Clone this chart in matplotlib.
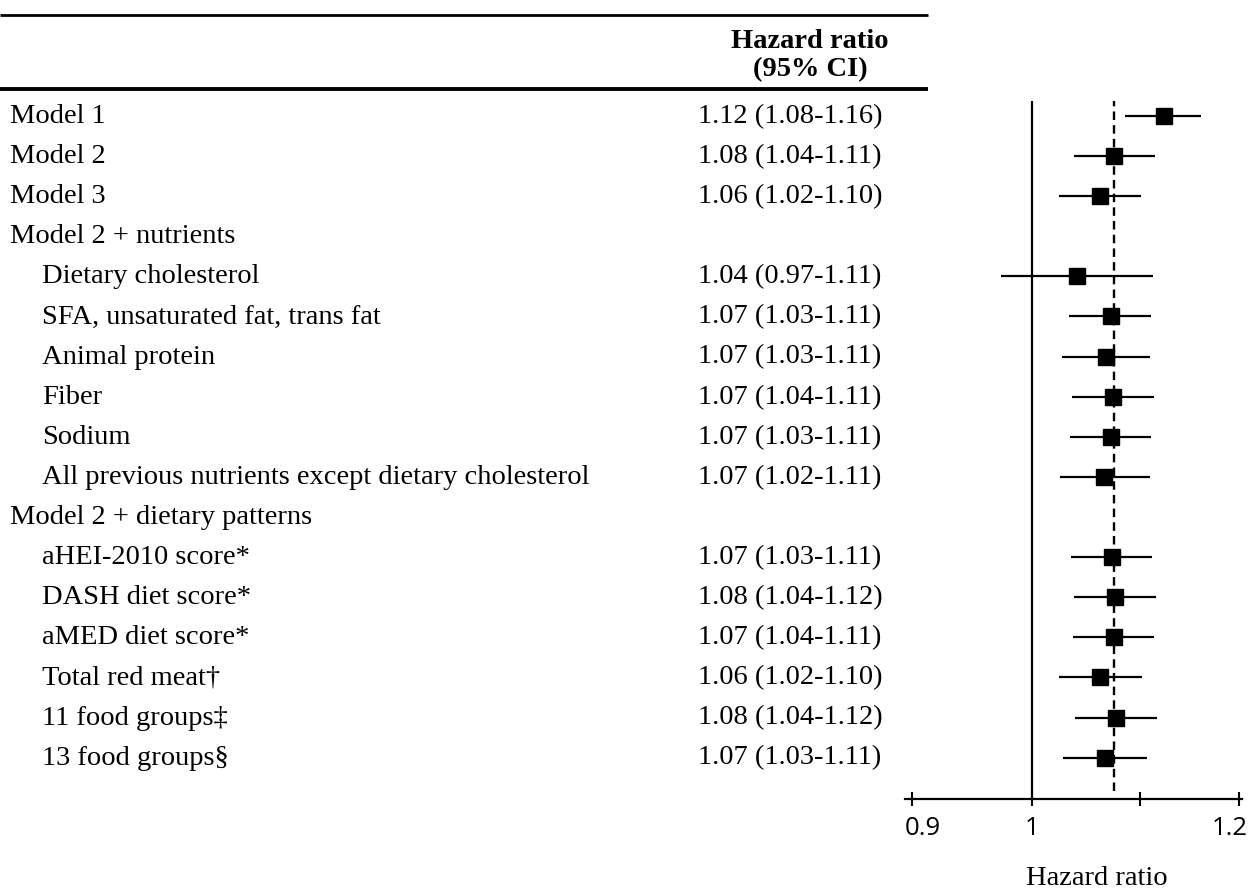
import numpy as np
import matplotlib
matplotlib.use("Agg")
import matplotlib.pyplot as plt
import matplotlib.transforms as mtransforms

# table rows
labels = ["Model 1", "Model 2", "Model 3", "Model 2 + nutrients",
          "Dietary cholesterol", "SFA, unsaturated fat, trans fat",
          "Animal protein", "Fiber", "Sodium",
          "All previous nutrients except dietary cholesterol",
          "Model 2 + dietary patterns", "aHEI-2010 score*", "DASH diet score*",
          "aMED diet score*", "Total red meat\u2020", "11 food groups\u2021",
          "13 food groups\u00a7"]
indent = [0, 0, 0, 0, 1, 1, 1, 1, 1, 1, 0, 1, 1, 1, 1, 1, 1]
ci_text = ["1.12 (1.08-1.16)", "1.08 (1.04-1.11)", "1.06 (1.02-1.10)", "",
           "1.04 (0.97-1.11)", "1.07 (1.03-1.11)", "1.07 (1.03-1.11)",
           "1.07 (1.04-1.11)", "1.07 (1.03-1.11)", "1.07 (1.02-1.11)", "",
           "1.07 (1.03-1.11)", "1.08 (1.04-1.12)", "1.07 (1.04-1.11)",
           "1.06 (1.02-1.10)", "1.08 (1.04-1.12)", "1.07 (1.03-1.11)"]

# plotted estimates
hr = [1.123, 1.075, 1.062, np.nan, 1.041, 1.072, 1.068, 1.074, 1.072, 1.066,
      np.nan, 1.073, 1.076, 1.075, 1.062, 1.077, 1.067]
lo = [1.086, 1.038, 1.024, np.nan, 0.973, 1.033, 1.027, 1.036, 1.034, 1.025,
      np.nan, 1.035, 1.038, 1.037, 1.024, 1.039, 1.028]
hi = [1.161, 1.115, 1.101, np.nan, 1.113, 1.111, 1.110, 1.114, 1.111, 1.110,
      np.nan, 1.112, 1.116, 1.114, 1.102, 1.117, 1.107]
ref_hr = hr[1]

xticks = [0.9, 1.0, 1.1, 1.2]
xticklabels = ["0.9", "1", "", "1.2"]

W, H = 1251, 888
serif = "Liberation Serif"
fs = 20.5

fig = plt.figure(figsize=(W / 100, H / 100), dpi=100)

# background axes in pixel coords for the table
bg = fig.add_axes([0, 0, 1, 1])
bg.set_xlim(0, W)
bg.set_ylim(H, 0)
bg.axis("off")

row0, step = 116, 40.1
rows = row0 + step * np.arange(len(labels))

bg.plot([0, 928], [15, 15], color="black", lw=2.0, solid_capstyle="butt")
bg.plot([0, 928], [89, 89], color="black", lw=2.8, solid_capstyle="butt")
bg.text(810, 48, "Hazard ratio", family=serif, fontsize=fs, fontweight="bold",
        ha="center", va="baseline")
bg.text(810, 76, "(95% CI)", family=serif, fontsize=fs, fontweight="bold",
        ha="center", va="baseline")

for y, lab, ind, val in zip(rows, labels, indent, ci_text):
    bg.text(10 + 32 * ind, y + 7, lab, family=serif, fontsize=fs, va="baseline")
    if val:
        bg.text(698, y + 7, val, family=serif, fontsize=fs, va="baseline")

# forest plot
ax = fig.add_axes([905 / W, (H - 799) / H, 337 / W, 698 / H])
ax.set_xscale("log")
ax.set_xlim(0.8945, 1.2033)
ax.set_ylim(799, 101)

hr_a, lo_a, hi_a = np.array(hr), np.array(lo), np.array(hi)
ok = ~np.isnan(hr_a)
ax.hlines(rows[ok], lo_a[ok], hi_a[ok], color="black", lw=1.6)
ax.plot(hr_a[ok], rows[ok], "s", color="black", markersize=11, zorder=3)
ax.axvline(1.0, color="black", lw=1.6)
ax.axvline(ref_hr, ymin=0.011, color="black", lw=1.7, linestyle=(0, (3.6, 2.2)))

for s in ["top", "right", "left"]:
    ax.spines[s].set_visible(False)
ax.spines["bottom"].set_linewidth(1.6)
ax.set_yticks([])
ax.xaxis.set_minor_locator(matplotlib.ticker.NullLocator())
ax.set_xticks(xticks)
ax.set_xticklabels(xticklabels, family="Open Sans", fontsize=18.5)
ax.tick_params(axis="x", direction="inout", length=10, width=1.5, pad=7.5)

# outer labels sit a little inward, as in the original
tl = ax.get_xticklabels()
for lab, dx in [(tl[0], 11), (tl[-1], -9)]:
    lab.set_transform(lab.get_transform() +
                      mtransforms.ScaledTranslation(dx / 100, 0, fig.dpi_scale_trans))

fig.text(1097 / W, 3.5 / H, "Hazard ratio", family=serif, fontsize=fs,
         ha="center", va="baseline")

fig.savefig("out.png", dpi=100)
